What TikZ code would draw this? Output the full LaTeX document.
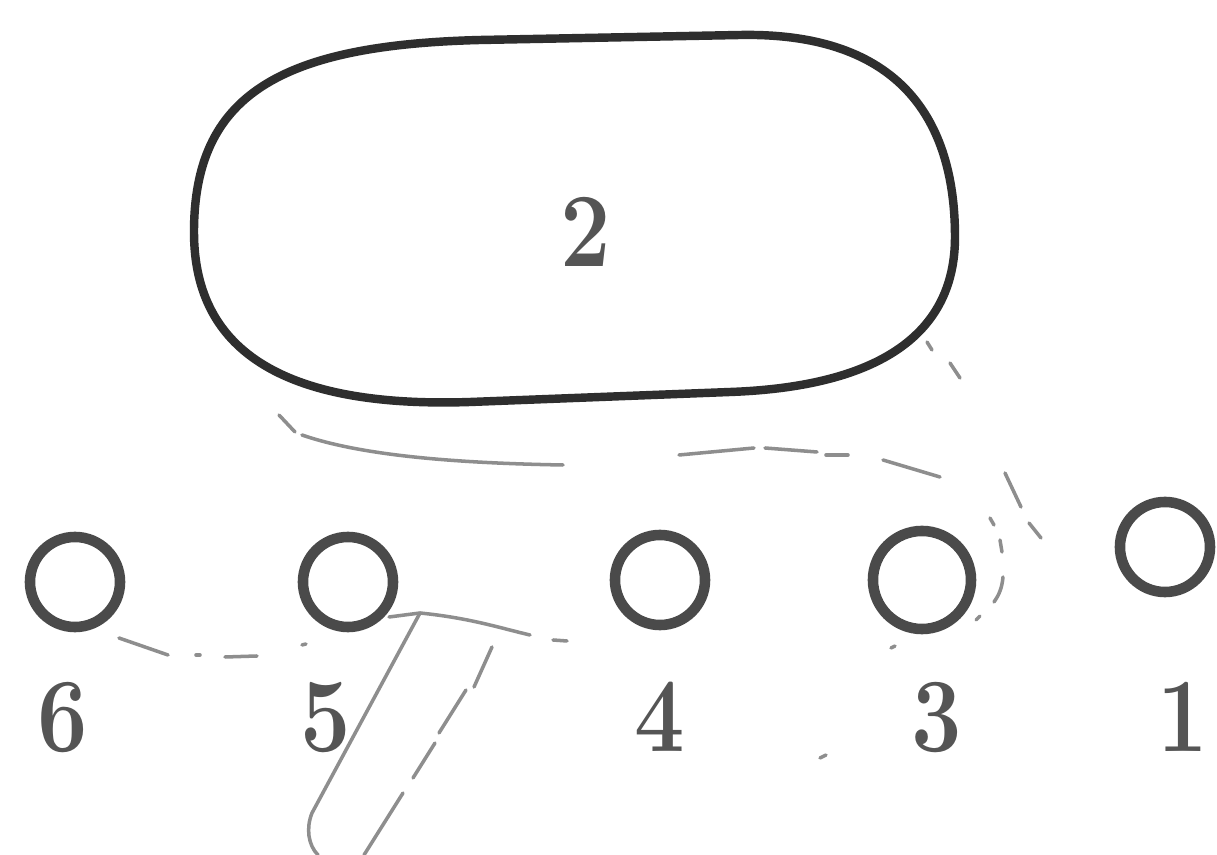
\documentclass[tikz,border=0pt]{standalone}
\usepackage{graphicx}
\definecolor{ink}{HTML}{2E2E2E}
\definecolor{ringc}{HTML}{4A4A4A}
\definecolor{labc}{HTML}{555555}
\definecolor{faint}{HTML}{8E8E8E}
\tikzset{
 ring/.style={circle, draw=ringc, line width=3pt, minimum size=0.9cm, inner sep=0pt},
 lab/.style={anchor=base, text=labc, font=\fontsize{30}{30}\selectfont\bfseries, inner sep=0pt},
 trace/.style={draw=faint, line width=1pt, line cap=round},
 outline/.style={draw=ink, line width=2.4pt}
}
\begin{document}
\begin{tikzpicture}[x=0.01cm, y=-0.01cm]
\useasboundingbox[fill=white] (0,0) rectangle (1217,855);

% large rounded outline
\draw[outline] (194,232) .. controls (194,95) and (280,45) .. (480,40)
  -- (740,35) .. controls (900,32) and (955,120) .. (955,237)
  .. controls (955,340) and (870,387) .. (730,392)
  -- (470,402) .. controls (290,408) and (194,355) .. cycle;
\node[lab] (n2) at (586,267) {\scalebox{0.85}[1]{2}};

% small rings
\node[ring] (c6) at (75,582) {};
\node[ring] (c5) at (348,582) {};
\node[ring] (c4) at (660,580) {};
\node[ring, minimum width=0.94cm, minimum height=0.98cm] (c3) at (922,580) {};
\node[ring] (c1) at (1165,547) {};

% labels
\node[lab] (l6) at (63,752) {\scalebox{0.85}[1]{6}};
\node[lab] (l5) at (326,752) {\scalebox{0.85}[1]{5}};
\node[lab] (l4) at (660,752) {\scalebox{0.85}[1]{4}};
\node[lab] (l3) at (937,752) {\scalebox{0.85}[1]{3}};
\node[lab] (l1) at (1183,752) {\scalebox{0.85}[1]{1}};

% faint traces: line below rings 6 and 5
\draw[trace] (119,638) -- (168,655);
\draw[trace] (196,655) -- (200,655);
\draw[trace] (225,657) -- (257,656);
\draw[trace] (302,645) -- (306,644);
\draw[trace] (389,617) -- (420,613) .. controls (470,618) and (500,628) .. (530,635);
\draw[trace] (553,640) -- (567,641);

% slanted strip
\draw[trace] (420,613) -- (312,813) .. controls (306,828) and (308,845) .. (318,855);
\draw[trace] (492,647) -- (474,687);
\draw[trace] (466,690) -- (439,733);
\draw[trace] (435,743) -- (413,778);
\draw[trace] (403,793) -- (364,855);

% curve under the large outline
\draw[trace] (279,415) -- (295,432);
\draw[trace] (302,435) .. controls (360,455) and (450,463) .. (563,465);
\draw[trace] (679,455) -- (754,448);
\draw[trace] (765,448) -- (817,452);
\draw[trace] (826,455) -- (848,455);
\draw[trace] (883,460) -- (940,477);
\draw[trace] (1005,473) -- (1021,507);
\draw[trace] (1029,523) -- (1041,538);

% trace from lower right of the outline
\draw[trace] (927,342) -- (932,350);
\draw[trace] (950,363) -- (960,378);

% arc around ring 3
\draw[trace] (990,518) -- (994,525);
\draw[trace] (1000,540) -- (1002,552);
\draw[trace] (1003,577) .. controls (1002,588) and (999,595) .. (994,602);
\draw[trace] (980,616) -- (976,620);
\draw[trace] (891,648) -- (895,646);
\draw[trace] (820,758) -- (826,755);
\end{tikzpicture}
\end{document}
